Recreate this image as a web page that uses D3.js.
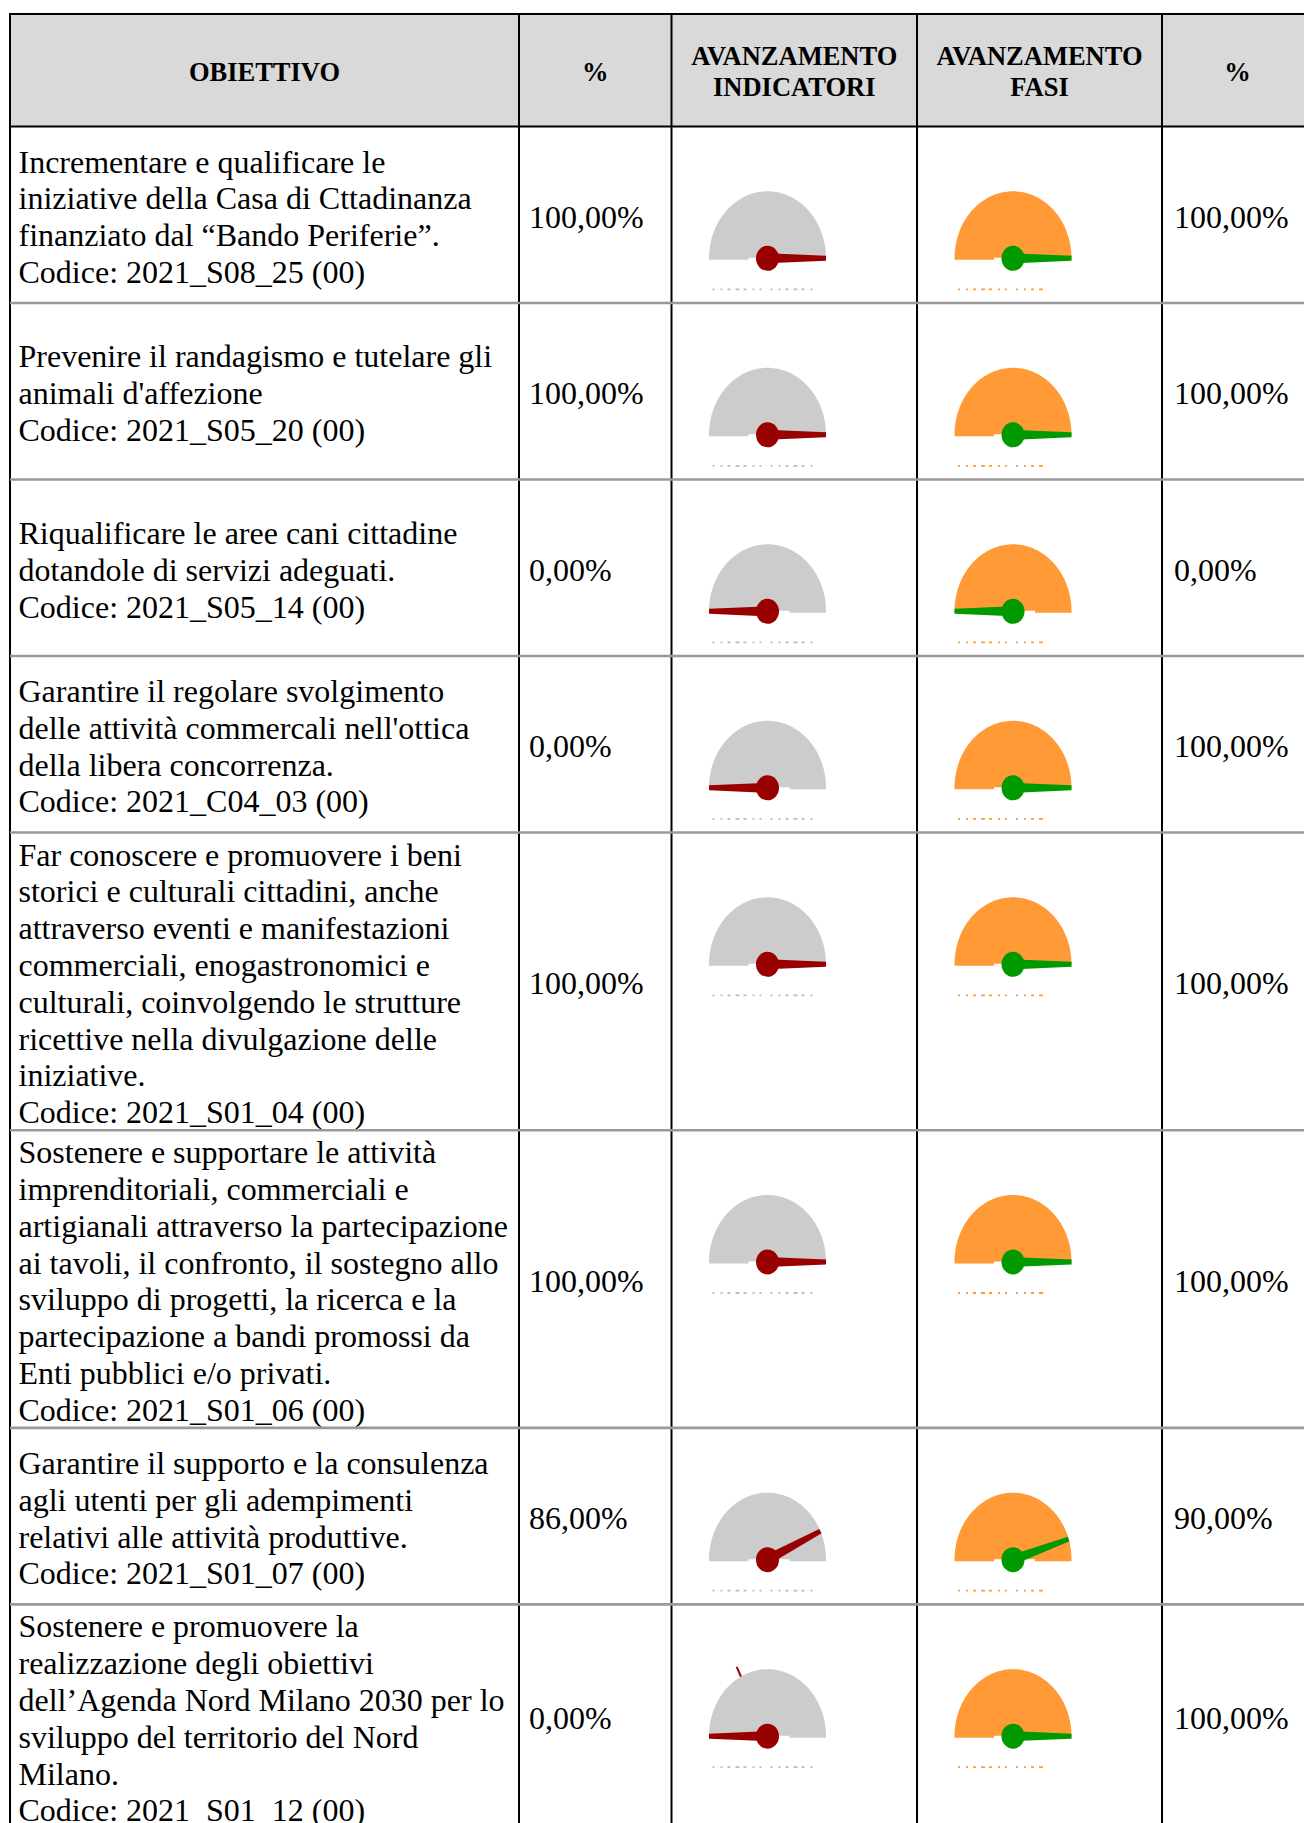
<!DOCTYPE html>
<html>
<head>
<meta charset="utf-8">
<script src="https://cdn.jsdelivr.net/npm/d3@7"></script>
<style>
  html, body { margin: 0; padding: 0; background: #ffffff; }
  svg { display: block; }
  text { font-family: "Liberation Serif", "Times New Roman", serif; }
</style>
</head>
<body>
<svg id="chart" width="1304" height="1823"></svg>
<script>
// ---------------- DATA ----------------
const headers = [
  ["OBIETTIVO"],
  ["%"],
  ["AVANZAMENTO", "INDICATORI"],
  ["AVANZAMENTO", "FASI"],
  ["%"]
];

const objectives = [
  ["Incrementare e qualificare le", "iniziative della Casa di Cttadinanza", "finanziato dal \u201CBando Periferie\u201D.", "Codice: 2021_S08_25 (00)"],
  ["Prevenire il randagismo e tutelare gli", "animali d'affezione", "Codice: 2021_S05_20 (00)"],
  ["Riqualificare le aree cani cittadine", "dotandole di servizi adeguati.", "Codice: 2021_S05_14 (00)"],
  ["Garantire il regolare svolgimento", "delle attivit\u00E0 commercali nell'ottica", "della libera concorrenza.", "Codice: 2021_C04_03 (00)"],
  ["Far conoscere e promuovere i beni", "storici e culturali cittadini, anche", "attraverso eventi e manifestazioni", "commerciali, enogastronomici e", "culturali, coinvolgendo le strutture", "ricettive nella divulgazione delle", "iniziative.", "Codice: 2021_S01_04 (00)"],
  ["Sostenere e supportare le attivit\u00E0", "imprenditoriali, commerciali e", "artigianali attraverso la partecipazione", "ai tavoli, il confronto, il sostegno allo", "sviluppo di progetti, la ricerca e la", "partecipazione a bandi promossi da", "Enti pubblici e/o privati.", "Codice: 2021_S01_06 (00)"],
  ["Garantire il supporto e la consulenza", "agli utenti per gli adempimenti", "relativi alle attivit\u00E0 produttive.", "Codice: 2021_S01_07 (00)"],
  ["Sostenere e promuovere la", "realizzazione degli obiettivi", "dell\u2019Agenda Nord Milano 2030 per lo", "sviluppo del territorio del Nord", "Milano.", "Codice: 2021_S01_12 (00)"]
];

const indicatoriPct = [100, 100, 0, 0, 100, 100, 86, 0];
const fasiPct       = [100, 100, 0, 100, 100, 100, 90, 100];
// small outer target marks visible on some gauges (null = none)
const indicatoriMarker = [null, null, null, null, null, null, null, 35];
const fasiMarker       = [null, null, null, null, null, null, null, null];

// ---------------- LAYOUT ----------------
const W = 1304, H = 1823;
const colX = [10, 519, 671.5, 917, 1162, 1313];
const tableTop = 14, headerBottom = 126.5;
const fs = 32, lineH = 36.8, baseOff = 31.4;
const hfs = 26.5, hLineH = 30.2;
const minRowH = 176.5, rowPad = 3.3;

const fmt = d3.formatLocale({decimal: ",", thousands: ".", grouping: [3], currency: ["\u20AC", ""]}).format(".2f");

const rows = objectives.map((lines, i) => ({
  i, lines,
  ind: indicatoriPct[i], fas: fasiPct[i],
  indMark: indicatoriMarker[i], fasMark: fasiMarker[i],
  h: Math.max(minRowH, lines.length * lineH + rowPad)
}));
let acc = headerBottom;
rows.forEach(r => { r.y = acc; acc += r.h; });
const tableBottom = acc;

const svg = d3.select("#chart");
svg.append("rect").attr("width", W).attr("height", H).attr("fill", "#fff");

// header background
svg.append("rect")
  .attr("x", colX[0]).attr("y", tableTop)
  .attr("width", colX[5] - colX[0]).attr("height", headerBottom - tableTop)
  .attr("fill", "#d9d9d9");

// header texts
const hdr = svg.append("g").selectAll("text").data(headers).join("text")
  .attr("text-anchor", "middle")
  .attr("font-size", hfs).attr("font-weight", "bold").attr("fill", "#000");
hdr.each(function(lines, c) {
  const cx = (colX[c] + colX[c + 1]) / 2;
  const mid = (tableTop + headerBottom) / 2;
  const top = mid - lines.length * hLineH / 2;
  d3.select(this).selectAll("tspan").data(lines).join("tspan")
    .attr("x", cx)
    .attr("y", (d, k) => top + k * hLineH + hfs * 0.9125 + 1.2)
    .text(d => d);
});

// ---------------- ROWS ----------------
const rowG = svg.append("g").selectAll("g").data(rows).join("g");

// objective text
rowG.append("text")
  .attr("font-size", fs).attr("fill", "#000")
  .each(function(r) {
    const top = r.y + (r.h - r.lines.length * lineH) / 2;
    d3.select(this).selectAll("tspan").data(r.lines).join("tspan")
      .attr("x", colX[0] + 8.5)
      .attr("y", (d, k) => top + k * lineH + baseOff)
      .text(d => d);
  });

// percent texts
[[1, "ind", 10], [4, "fas", 12]].forEach(([c, key, pad]) => {
  rowG.append("text")
    .attr("font-size", fs).attr("fill", "#000")
    .attr("x", colX[c] + pad)
    .attr("y", r => r.y + (r.h - lineH) / 2 + baseOff)
    .text(r => fmt(r[key]) + "%");
});

// ---------------- GAUGES ----------------
const angle = d3.scaleLinear().domain([0, 100]).range([Math.PI, 0]);
const rx = 58.5, ry = 67;
const gaugeSpecs = [
  {c: 2, key: "ind", mark: "indMark", dome: "#cccccc", needle: "#990000", dash: "#bdbdbd"},
  {c: 3, key: "fas", mark: "fasMark", dome: "#ff9a36", needle: "#009900", dash: "#ff9a36"}
];
const domeLine = d3.line();
function domePath(cx, cy) {
  const pts = [[cx - rx, cy + 1.5]];
  d3.range(0, 91).forEach(k => {
    const a = Math.PI - k * Math.PI / 90;
    pts.push([cx + rx * Math.cos(a), cy - ry * Math.sin(a)]);
  });
  pts.push([cx + rx, cy + 1.5], [cx + 22, cy + 1.5], [cx + 22, cy - 0.5],
           [cx - 19, cy - 0.5], [cx - 19, cy + 1.5]);
  return domeLine(pts) + "Z";
}
function needlePath(cx, cy, v) {
  const a = angle(v);
  const tx = cx + rx * Math.cos(a), ty = cy - ry * Math.sin(a);
  const len = Math.hypot(tx - cx, ty - cy);
  const ux = (tx - cx) / len, uy = (ty - cy) / len;
  const px = -uy, py = ux;
  const w0 = 5, w1 = 2.5;
  return domeLine([
    [cx + px * w0, cy + py * w0], [tx + px * w1, ty + py * w1],
    [tx - px * w1, ty - py * w1], [cx - px * w0, cy - py * w0]
  ]) + "Z";
}

gaugeSpecs.forEach(spec => {
  const g = rowG.append("g");
  g.each(function(r) {
    const sel = d3.select(this);
    const cx = colX[spec.c] + 96, cy = r.y + 131.8;
    sel.append("path").attr("d", domePath(cx, cy)).attr("fill", spec.dome);
    // scale label dashes under the gauge
    sel.append("line")
      .attr("x1", cx - 55).attr("x2", spec.c === 2 ? cx + 50 : cx + 32)
      .attr("y1", cy + 31).attr("y2", cy + 31)
      .attr("stroke", spec.dash).attr("stroke-width", 1.8)
      .attr("stroke-dasharray", "2,6,2,5,3,5,4,4,3,6,2,5,2,9");
    const m = r[spec.mark];
    if (m != null) {
      const a = angle(m);
      sel.append("line")
        .attr("x1", cx + rx * 1.0 * Math.cos(a)).attr("y1", cy - ry * 1.0 * Math.sin(a))
        .attr("x2", cx + rx * 1.16 * Math.cos(a)).attr("y2", cy - ry * 1.16 * Math.sin(a))
        .attr("stroke", spec.needle).attr("stroke-width", 2);
    }
    sel.append("path").attr("d", needlePath(cx, cy, r[spec.key])).attr("fill", spec.needle);
    sel.append("ellipse").attr("cx", cx).attr("cy", cy)
      .attr("rx", 11.5).attr("ry", 12.5).attr("fill", spec.needle);
  });
});

// ---------------- GRID LINES ----------------
const grid = svg.append("g");
grid.selectAll("line.v").data(colX).join("line").attr("class", "v")
  .attr("x1", d => d).attr("x2", d => d)
  .attr("y1", tableTop).attr("y2", Math.max(tableBottom, H))
  .attr("stroke", "#000").attr("stroke-width", 2);
grid.append("line")
  .attr("x1", colX[0] - 1).attr("x2", colX[5] + 1)
  .attr("y1", tableTop).attr("y2", tableTop)
  .attr("stroke", "#000").attr("stroke-width", 2);
grid.append("line")
  .attr("x1", colX[0] - 1).attr("x2", colX[5] + 1)
  .attr("y1", headerBottom).attr("y2", headerBottom)
  .attr("stroke", "#000").attr("stroke-width", 2.2);
grid.selectAll("line.h").data(rows.slice(1)).join("line").attr("class", "h")
  .attr("x1", colX[0]).attr("x2", colX[5])
  .attr("y1", r => r.y).attr("y2", r => r.y)
  .attr("stroke", "#999999").attr("stroke-width", 2.6);
</script>
</body>
</html>
